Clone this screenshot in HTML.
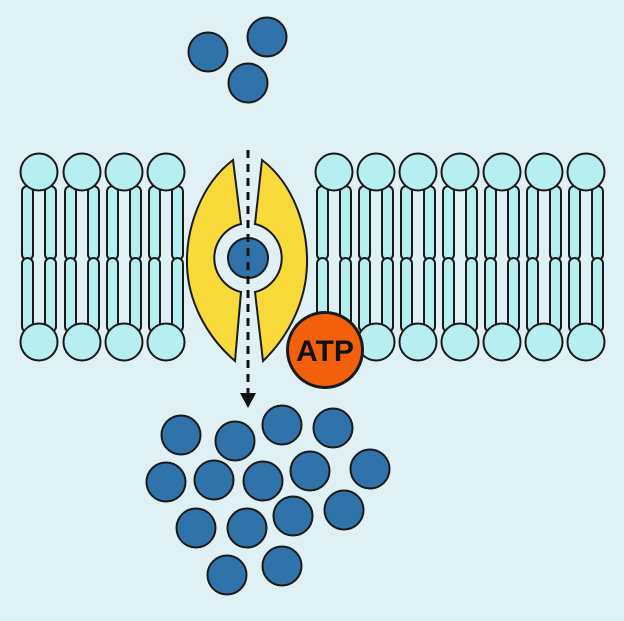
<!DOCTYPE html><html><head><style>body{margin:0;background:#dff0f4}</style></head><body>
<svg width="624" height="616" viewBox="0 0 624 616" xmlns="http://www.w3.org/2000/svg">
<rect width="624" height="616" fill="#e0f1f5"/>
<defs>
<g id="lip" stroke="#1a1a1a" stroke-width="2" fill="#b7eef0">
<rect x="-17" y="186" width="11" height="74" rx="5.5"/>
<rect x="6" y="186" width="11" height="74" rx="5.5"/>
<rect x="-17" y="258" width="11" height="74" rx="5.5"/>
<rect x="6" y="258" width="11" height="74" rx="5.5"/>
<circle cx="0" cy="172" r="18.5"/>
<circle cx="0" cy="342" r="18.5"/>
</g>
</defs>
<use href="#lip" x="39"/><use href="#lip" x="82"/><use href="#lip" x="124"/><use href="#lip" x="166"/>
<use href="#lip" x="334"/><use href="#lip" x="376"/><use href="#lip" x="418"/><use href="#lip" x="460"/><use href="#lip" x="502"/><use href="#lip" x="544"/><use href="#lip" x="586"/>
<g fill="#f7d93a" stroke="#1a1a1a" stroke-width="2">
<path d="M233,160 C200,185 186,230 187,265 C188,300 205,335 235,361 L241,292 A35,35 0 0 1 241,224 Z"/>
<path d="M262,160 C295,185 308,230 307,265 C306,300 290,335 263,361 L255,292 A35,35 0 0 0 255,224 Z"/>
</g>
<circle cx="248" cy="258" r="20" fill="#2f73aa" stroke="#1a1a1a" stroke-width="2"/>
<line x1="248" y1="150" x2="248" y2="395" stroke="#111" stroke-width="3" stroke-dasharray="8,6"/>
<polygon points="240,393 256,393 248,408" fill="#111"/>
<circle cx="325" cy="350" r="39" fill="#1a1a1a"/>
<circle cx="325" cy="350" r="36" fill="#f2600c"/>
<text x="325" y="361" text-anchor="middle" font-family="Liberation Sans, sans-serif" font-weight="bold" font-size="30" fill="#111">ATP</text>
<g fill="#2f73aa" stroke="#1a1a1a" stroke-width="2">
<circle cx="208" cy="52" r="19.5"/><circle cx="267" cy="37" r="19.5"/><circle cx="248" cy="83" r="19.5"/>
<circle cx="181" cy="435" r="19.5"/><circle cx="235" cy="441" r="19.5"/><circle cx="282" cy="425" r="19.5"/><circle cx="333" cy="428" r="19.5"/>
<circle cx="166" cy="482" r="19.5"/><circle cx="214" cy="480" r="19.5"/><circle cx="263" cy="481" r="19.5"/><circle cx="310" cy="471" r="19.5"/><circle cx="370" cy="469" r="19.5"/>
<circle cx="196" cy="528" r="19.5"/><circle cx="247" cy="528" r="19.5"/><circle cx="293" cy="516" r="19.5"/><circle cx="344" cy="510" r="19.5"/>
<circle cx="227" cy="575" r="19.5"/><circle cx="282" cy="566" r="19.5"/>
</g>
</svg>
</body></html>
